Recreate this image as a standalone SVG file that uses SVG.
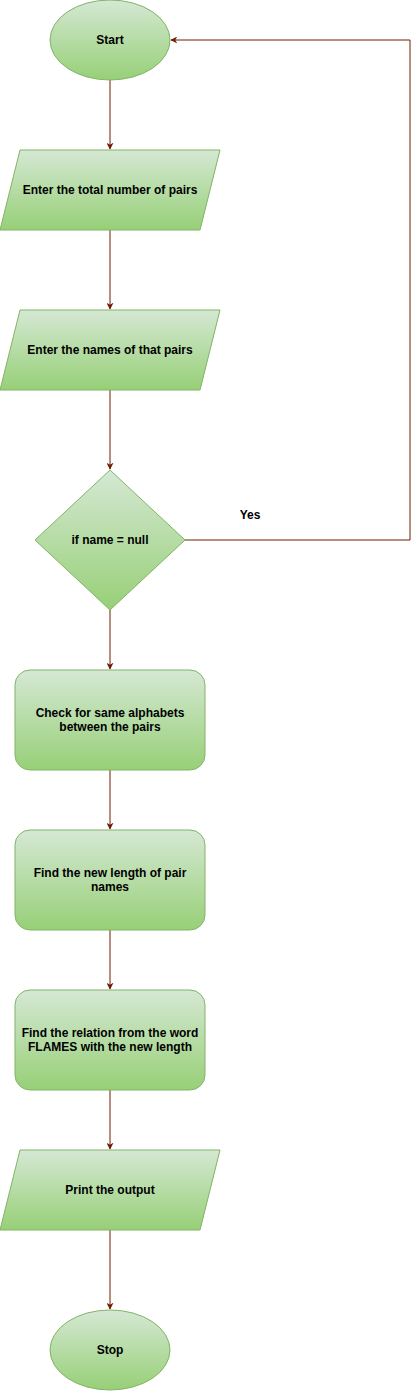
<svg xmlns="http://www.w3.org/2000/svg" width="419" height="1391" viewBox="0 0 419 1391">
<defs>
<linearGradient id="g" x1="0" y1="0" x2="0" y2="1">
<stop offset="0" stop-color="#d5e8d4"/>
<stop offset="1" stop-color="#97d077"/>
</linearGradient>
<marker id="arr" viewBox="0 0 10 10" refX="9" refY="5" markerWidth="7" markerHeight="7" markerUnits="userSpaceOnUse" orient="auto">
<path d="M0,0 L10,5 L0,10 L3,5 Z" fill="#6F1C00"/>
</marker>
</defs>
<style>
.n{fill:url(#g);stroke:#82b366;stroke-width:1}
.t{font-family:"Liberation Sans",Arial,sans-serif;font-size:12px;font-weight:bold;fill:#000;text-anchor:middle}
.c{fill:none;stroke:#6F1C00;stroke-width:1}
</style>
<g id="connectors">
<path class="c" d="M110,80 L110,149" marker-end="url(#arr)"/>
<path class="c" d="M110,230 L110,309" marker-end="url(#arr)"/>
<path class="c" d="M110,390 L110,469" marker-end="url(#arr)"/>
<path class="c" d="M110,610 L110,669" marker-end="url(#arr)"/>
<path class="c" d="M110,770 L110,829" marker-end="url(#arr)"/>
<path class="c" d="M110,930 L110,989" marker-end="url(#arr)"/>
<path class="c" d="M110,1090 L110,1149" marker-end="url(#arr)"/>
<path class="c" d="M110,1230 L110,1309" marker-end="url(#arr)"/>
<path class="c" d="M185,540 L410,540 L410,40 L171,40" marker-end="url(#arr)"/>
<text class="t" x="250" y="519">Yes</text>
</g>
<g id="start">
<ellipse class="n" cx="110" cy="40" rx="60" ry="40"/>
<text class="t" x="110" y="44">Start</text>
</g>
<g id="input1">
<polygon class="n" points="20,150 220,150 200,230 0,230"/>
<text class="t" x="110" y="194">Enter the total number of pairs</text>
</g>
<g id="input2">
<polygon class="n" points="20,310 220,310 200,390 0,390"/>
<text class="t" x="110" y="354">Enter the names of that pairs</text>
</g>
<g id="decision">
<polygon class="n" points="110,470 185,540 110,610 35,540"/>
<text class="t" x="110" y="544">if name = null</text>
</g>
<g id="check">
<rect class="n" x="15" y="670" width="190" height="100" rx="15" ry="15"/>
<text class="t" x="110" y="717">Check for same alphabets</text>
<text class="t" x="110" y="731">between the pairs</text>
</g>
<g id="length">
<rect class="n" x="15" y="830" width="190" height="100" rx="15" ry="15"/>
<text class="t" x="110" y="877">Find the new length of pair</text>
<text class="t" x="110" y="891">names</text>
</g>
<g id="relation">
<rect class="n" x="15" y="990" width="190" height="100" rx="15" ry="15"/>
<text class="t" x="110" y="1037">Find the relation from the word</text>
<text class="t" x="110" y="1051">FLAMES with the new length</text>
</g>
<g id="output">
<polygon class="n" points="20,1150 220,1150 200,1230 0,1230"/>
<text class="t" x="110" y="1194">Print the output</text>
</g>
<g id="stop">
<ellipse class="n" cx="110" cy="1350" rx="60" ry="40"/>
<text class="t" x="110" y="1354">Stop</text>
</g>
</svg>
